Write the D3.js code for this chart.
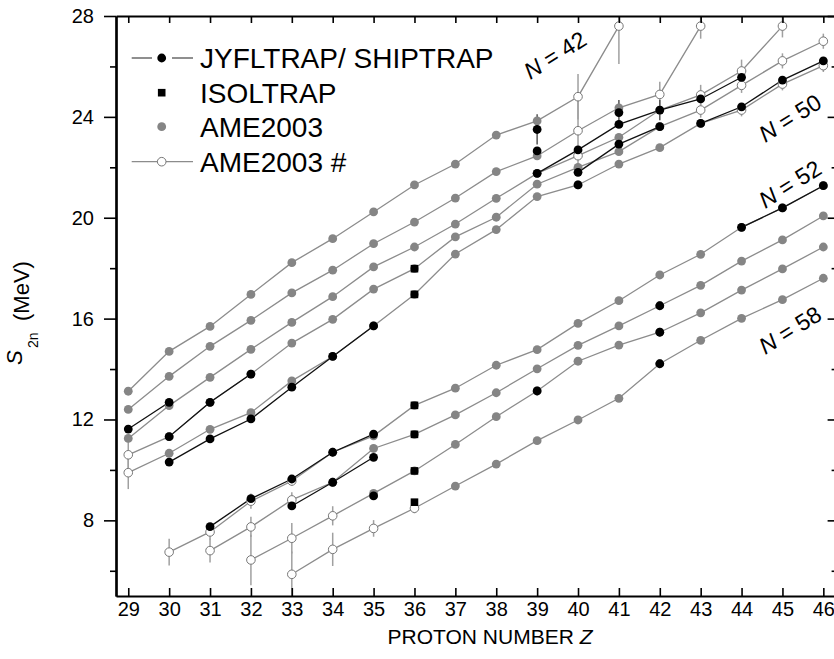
<!DOCTYPE html>
<html><head><meta charset="utf-8">
<script src="https://cdn.jsdelivr.net/npm/d3@7/dist/d3.min.js"></script>
<style>
body{margin:0;background:#fff;}
text{font-family:"Liberation Sans",Arial,sans-serif;fill:#000;}
</style>
</head><body>
<svg id="c" width="834" height="659"></svg>
<script>
// ---------------- DATA ----------------
const Z = [29,30,31,32,33,34,35,36,37,38,39,40,41,42,43,44,45,46];
const yTicks = [8,12,16,20,24,28];
const yMinor = [6,10,14,18,22,26];

// AME2003 values (MeV) per neutron number, indexed by Z
const ame42 = [13.12,14.70,15.69,16.96,18.22,19.17,20.23,21.30,22.13,23.28,23.84,24.80,27.60,null,null,null,null,null];
const ame44 = [12.40,13.71,14.90,15.93,17.02,17.92,18.97,19.83,20.78,21.83,22.45,23.45,24.36,24.89,27.60,null,null,null];
const ame46 = [11.25,12.55,13.67,14.78,15.85,16.87,18.05,18.84,19.75,20.77,21.76,22.46,23.19,24.27,24.87,25.82,27.60,null];
const ame48 = [10.60,11.32,12.68,13.80,15.03,15.97,17.17,17.98,19.24,20.02,21.33,22.00,22.62,23.61,24.27,25.25,26.22,27.00];
const ame50 = [9.89,10.66,11.61,12.27,13.53,14.50,15.71,16.96,18.56,19.53,20.84,21.30,22.13,22.78,23.74,24.27,25.30,26.03];
const ame52 = [null,6.74,7.54,8.76,9.56,10.70,11.35,12.56,13.24,14.15,14.77,15.81,16.71,17.73,18.55,19.62,20.39,21.27];
const ame54 = [null,null,6.80,7.74,8.81,9.51,10.85,11.41,12.18,13.06,14.01,14.94,15.71,16.51,17.32,18.28,19.12,20.07];
const ame56 = [null,null,null,6.43,7.29,8.18,9.07,9.96,11.01,12.11,13.13,14.31,14.95,15.46,16.23,17.13,17.97,18.84];
const ame58 = [null,null,null,null,5.86,6.85,7.68,8.48,9.36,10.23,11.16,11.98,12.84,14.21,15.14,16.01,16.75,17.60];

// AME2003 extrapolated (#) points: Z values
const est42 = [40,41];
const est44 = [40,42,43];
const est46 = [40,43,44,45];
const est48 = [29,43,44,45,46];
const est50 = [29,44,45,46];
const est52 = [30,31,32,33];
const est54 = [31,32,33];
const est56 = [32,33,34];
const est58 = [33,34,35,36];

// AME2003 uncertainties [Z, err]
const err42 = [[40,0.9],[41,1.5]];
const err44 = [[40,1.4],[42,0.5],[43,0.5]];
const err46 = [[43,0.4],[44,0.45],[45,0.45]];
const err48 = [[29,0.7],[43,0.3],[44,0.3],[45,0.3],[46,0.3]];
const err50 = [[29,0.65],[44,0.25],[45,0.25],[46,0.25]];
const err52 = [[30,0.53],[31,0.3],[32,0.3],[33,0.2]];
const err54 = [[31,0.47],[32,0.4],[33,0.3]];
const err56 = [[32,1.0],[33,0.6],[34,0.38]];
const err58 = [[33,0.9],[34,0.66],[35,0.33],[36,0.2]];

// JYFLTRAP / SHIPTRAP values [Z, S2n, err]
const jyfl42 = [[39,23.50,0.6]];
const jyfl44 = [[39,22.65,0],[41,24.17,0.5]];
const jyfl46 = [[29,11.62,0],[30,12.68,0],[39,21.76,0],[40,22.69,0],[41,23.70,0],[42,24.27,0.4],[43,24.71,0],[44,25.57,0]];
const jyfl48 = [[30,11.32,0],[31,12.68,0],[32,13.80,0],[40,21.80,0],[41,22.92,0],[42,23.61,0]];
const jyfl50 = [[30,10.31,0],[31,11.23,0],[32,12.02,0],[33,13.28,0],[34,14.50,0],[35,15.71,0],[40,21.30,0],[43,23.74,0],[44,24.40,0],[45,25.46,0],[46,26.22,0]];
const jyfl52 = [[31,7.75,0],[32,8.86,0],[33,9.64,0],[34,10.70,0],[35,11.42,0],[44,19.62,0],[45,20.39,0],[46,21.27,0]];
const jyfl54 = [[33,8.57,0],[34,9.51,0],[35,10.50,0],[42,16.51,0]];
const jyfl56 = [[35,8.97,0],[39,13.13,0],[42,15.46,0]];
const jyfl58 = [[42,14.21,0]];

// ISOLTRAP values [Z, S2n]
const isoltrap = [[36,17.98],[36,16.96],[36,12.56],[36,11.41],[36,9.96],[36,8.72]];

const legendLabels = ["JYFLTRAP/ SHIPTRAP","ISOLTRAP","AME2003","AME2003 #"];
const nLabels = [["N = 42",555,55],["N = 50",790,118],["N = 52",790,184],["N = 58",790,330]];

// ---------------- BUILD ----------------
const series = [
  {ame:ame42,est:est42,err:err42,j:jyfl42},
  {ame:ame44,est:est44,err:err44,j:jyfl44},
  {ame:ame46,est:est46,err:err46,j:jyfl46},
  {ame:ame48,est:est48,err:err48,j:jyfl48},
  {ame:ame50,est:est50,err:err50,j:jyfl50},
  {ame:ame52,est:est52,err:err52,j:jyfl52},
  {ame:ame54,est:est54,err:err54,j:jyfl54},
  {ame:ame56,est:est56,err:err56,j:jyfl56},
  {ame:ame58,est:est58,err:err58,j:jyfl58}
];

const svg = d3.select("#c");
const L=116, R=835.6, T=16, B=596;
const x = d3.scaleLinear().domain([28.7,46.3]).range([L,R]);
const y = d3.scaleLinear().domain([5,28]).range([B,T]);

const GRAY="#858585", LGRAY="#8c8c8c";

svg.append("defs").append("clipPath").attr("id","clip")
  .append("rect").attr("x",L).attr("y",T).attr("width",R-L).attr("height",B-T);
const plot = svg.append("g").attr("clip-path","url(#clip)");

const line = d3.line().defined(d=>d[1]!=null).x(d=>x(d[0])).y(d=>y(d[1]));

// gray AME lines
series.forEach(s=>{
  const pts = Z.map((z,i)=>[z,s.ame[i]]);
  plot.append("path").attr("d",line(pts)).attr("fill","none")
    .attr("stroke",LGRAY).attr("stroke-width",1.3);
});
// black JYFL lines (only consecutive Z)
series.forEach(s=>{
  const pts=[];
  s.j.forEach((p,k)=>{
    if(k>0 && p[0]!==s.j[k-1][0]+1) pts.push([p[0]-0.5,null]);
    pts.push([p[0],p[1]]);
  });
  plot.append("path").attr("d",line(pts)).attr("fill","none")
    .attr("stroke","#111").attr("stroke-width",1.3);
});
// AME error bars
series.forEach(s=>{
  s.err.forEach(([z,e])=>{
    const v=s.ame[z-29];
    plot.append("line").attr("x1",x(z)).attr("x2",x(z)).attr("y1",y(v-e)).attr("y2",y(v+e))
      .attr("stroke","#a0a0a0").attr("stroke-width",1.5);
  });
});
// JYFL error bars
series.forEach(s=>{
  s.j.forEach(([z,v,e])=>{
    if(e>0) plot.append("line").attr("x1",x(z)).attr("x2",x(z)).attr("y1",y(v-e)).attr("y2",y(v+e))
      .attr("stroke","#555").attr("stroke-width",1.5);
  });
});
// AME points
series.forEach(s=>{
  Z.forEach((z,i)=>{
    const v=s.ame[i]; if(v==null) return;
    const open = s.est.includes(z);
    plot.append("circle").attr("cx",x(z)).attr("cy",y(v)).attr("r",open?4.3:4.4)
      .attr("fill",open?"#fff":GRAY).attr("stroke",open?"#777":"none").attr("stroke-width",1);
  });
});
// ISOLTRAP squares
isoltrap.forEach(([z,v])=>{
  plot.append("rect").attr("x",x(z)-3.8).attr("y",y(v)-3.8).attr("width",7.6).attr("height",7.6).attr("fill","#000");
});
// JYFL points
series.forEach(s=>{
  s.j.forEach(([z,v])=>{
    plot.append("circle").attr("cx",x(z)).attr("cy",y(v)).attr("r",4.4).attr("fill","#000");
  });
});

// ---------------- AXES ----------------
function styleAxis(g){
  g.select(".domain").attr("stroke","#000").attr("stroke-width",2.2);
  g.selectAll(".tick line").attr("stroke","#000").attr("stroke-width",1.6);
  g.selectAll(".tick text").attr("font-size",20).attr("font-family","Liberation Sans, Arial, sans-serif").attr("fill","#000");
}
styleAxis(svg.append("g").attr("transform",`translate(0,${B})`)
  .call(d3.axisBottom(x).tickValues(Z).tickSize(-8).tickSizeOuter(0).tickPadding(6).tickFormat(d3.format("d"))));
styleAxis(svg.append("g").attr("transform",`translate(0,${T})`)
  .call(d3.axisTop(x).tickValues(Z).tickSize(-7).tickSizeOuter(0).tickFormat("")));
styleAxis(svg.append("g").attr("transform",`translate(${L},0)`)
  .call(d3.axisLeft(y).tickValues(yTicks).tickSize(12).tickSizeOuter(0).tickPadding(10).tickFormat(d3.format("d"))));
styleAxis(svg.append("g").attr("transform",`translate(${L},0)`)
  .call(d3.axisLeft(y).tickValues(yMinor).tickSize(6).tickSizeOuter(0).tickFormat("")));
styleAxis(svg.append("g").attr("transform",`translate(${R},0)`)
  .call(d3.axisRight(y).tickValues(yTicks).tickSize(-8).tickSizeOuter(0).tickFormat("")));
styleAxis(svg.append("g").attr("transform",`translate(${R},0)`)
  .call(d3.axisRight(y).tickValues(yMinor).tickSize(-4).tickSizeOuter(0).tickFormat("")));

// axis titles
const xt = svg.append("text").attr("x",490).attr("y",644).attr("text-anchor","middle").attr("font-size",21);
xt.append("tspan").text("PROTON NUMBER ");
xt.append("tspan").attr("font-style","italic").text("Z");

const yt = svg.append("g").attr("transform","rotate(-90)");
yt.append("text").attr("x",-365).attr("y",22).attr("font-size",22).attr("font-style","italic").text("S");
yt.append("text").attr("x",-348).attr("y",38).attr("font-size",14).text("2n");
yt.append("text").attr("x",-321).attr("y",29).attr("font-size",22).text("(MeV)");

// ---------------- LEGEND ----------------
const lg = svg.append("g");
const rows=[58,92.7,126.7,161.7], sx=161.7, tx=200;
lg.append("line").attr("x1",131.7).attr("x2",152).attr("y1",rows[0]).attr("y2",rows[0]).attr("stroke","#444").attr("stroke-width",1.2);
lg.append("line").attr("x1",172).attr("x2",193).attr("y1",rows[0]).attr("y2",rows[0]).attr("stroke","#444").attr("stroke-width",1.2);
lg.append("circle").attr("cx",sx).attr("cy",rows[0]).attr("r",4.4).attr("fill","#000");
lg.append("rect").attr("x",sx-3.8).attr("y",rows[1]-3.8).attr("width",7.6).attr("height",7.6).attr("fill","#000");
lg.append("circle").attr("cx",sx).attr("cy",rows[2]).attr("r",4.4).attr("fill",GRAY);
lg.append("line").attr("x1",131.7).attr("x2",193).attr("y1",rows[3]).attr("y2",rows[3]).attr("stroke",LGRAY).attr("stroke-width",1.2);
lg.append("circle").attr("cx",sx).attr("cy",rows[3]).attr("r",4.3).attr("fill","#fff").attr("stroke","#777");
legendLabels.forEach((t,i)=>{
  lg.append("text").attr("x",tx).attr("y",rows[i]).attr("dy","0.36em").attr("font-size",28).text(t);
});

// N labels
nLabels.forEach(([t,cx,cy])=>{
  const g = svg.append("g").attr("transform",`translate(${cx},${cy}) rotate(-32)`);
  const tt = g.append("text").attr("text-anchor","middle").attr("dy","0.35em").attr("font-size",23);
  tt.append("tspan").attr("font-style","italic").text(t.slice(0,1));
  tt.append("tspan").text(t.slice(1));
});
</script>
</body></html>
